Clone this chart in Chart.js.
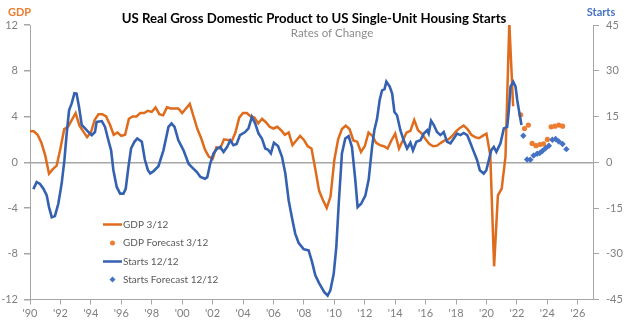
<!DOCTYPE html>
<html>
<head>
<meta charset="utf-8">
<script src="https://cdn.jsdelivr.net/npm/chart.js@4.4.0/dist/chart.umd.min.js"></script>
<style>
  html, body { margin: 0; padding: 0; background: #fff; }
  #wrap { width: 624px; height: 327px; }
</style>
</head>
<body>
<div id="wrap"><canvas id="chart"></canvas></div>
<script>
// GDP 3/12 % change, quarterly, first point at 1990.0
var gdpStartYear = 1990;
var gdpValues = [
  2.7, 2.7, 2.4, 1.7,   0.6, -1.0, -0.6, -0.3,   1.2, 2.9, 3.1, 3.7,   4.3, 3.2, 2.7, 2.2,
  2.6, 3.7, 4.2, 4.2,   4.0, 3.3, 2.4, 2.6,      2.3, 2.4, 3.8, 4.0,   4.0, 4.3, 4.3, 4.5,
  4.4, 4.8, 4.2, 4.1,   4.8, 4.7, 4.7, 4.7,      4.3, 4.7, 5.1, 4.0,   2.9, 2.1, 1.1, 0.5,
  0.3, 1.3, 1.2, 2.0,   1.95, 1.8, 2.6, 3.9,     4.3, 4.3, 4.0, 3.9,   3.4, 3.8, 3.5, 3.1,
  2.95, 3.1, 2.8, 2.4,  2.6, 1.5, 1.9, 2.3,      1.95, 1.4, 1.2, -0.6, -2.5, -3.3, -4.0, -3.0,
  0.2, 2.0, 2.9, 3.2,   2.9, 1.9, 1.8, 0.9,      1.4, 2.6, 2.3, 1.7,   1.5, 1.4, 1.2, 1.9,
  2.5, 1.2, 1.9, 2.6,   2.75, 3.7, 2.8, 2.5,     2.0, 1.6, 1.4, 1.45,  1.7, 1.9, 2.0, 2.3,
  2.7, 3.0, 3.2, 2.9,   2.4, 2.2, 2.1, 2.3,      2.5, 0.6, -9.1, -2.9, -2.3, 0.5, 12.2, 4.9
];

// GDP forecast, quarterly
var gdpForecastDates = [2022.25, 2022.5, 2022.75, 2023.0, 2023.25, 2023.5, 2023.75, 2024.0, 2024.25, 2024.5, 2024.75, 2025.0];
var gdpForecastValues = [4.15, 2.95, 3.25, 1.65, 1.45, 1.55, 1.6, 2.0, 3.1, 3.15, 3.25, 3.15];

// Single-unit housing starts 12/12 % change
var startsDates = [
  1990.22, 1990.44, 1990.66, 1990.88, 1991.10, 1991.25, 1991.43, 1991.64, 1991.86, 1992.08,
  1992.26, 1992.41, 1992.57, 1992.74, 1992.92, 1993.06, 1993.22, 1993.40, 1993.62, 1993.84,
  1994.06, 1994.27, 1994.38, 1994.72, 1994.93, 1995.15, 1995.33, 1995.48, 1995.70, 1995.92,
  1996.14, 1996.29, 1996.47, 1996.64, 1996.86, 1997.05, 1997.35, 1997.55, 1997.75, 1997.90,
  1998.10, 1998.44, 1998.77, 1999.10, 1999.30, 1999.50, 1999.75, 2000.09, 2000.42, 2000.70,
  2000.97, 2001.20, 2001.50, 2001.65, 2001.84, 2002.06, 2002.30, 2002.50, 2002.72, 2002.95,
  2003.16, 2003.37, 2003.58, 2003.80, 2004.14, 2004.36, 2004.58, 2004.80, 2005.02, 2005.24,
  2005.46, 2005.65, 2005.83, 2006.03, 2006.30, 2006.56, 2006.78, 2007.00, 2007.21, 2007.43,
  2007.65, 2007.98, 2008.31, 2008.53, 2008.75, 2009.00, 2009.34, 2009.56, 2009.74, 2009.96,
  2010.13, 2010.29, 2010.50, 2010.72, 2010.94, 2011.16, 2011.38, 2011.53, 2011.76, 2012.04,
  2012.26, 2012.48, 2012.63, 2012.81, 2012.98, 2013.14, 2013.30, 2013.42, 2013.64, 2013.80,
  2013.95, 2014.12, 2014.34, 2014.56, 2014.78, 2015.00, 2015.17, 2015.39, 2015.66, 2015.88,
  2016.10, 2016.20, 2016.36, 2016.54, 2016.75, 2016.97, 2017.19, 2017.41, 2017.63, 2017.85,
  2018.07, 2018.29, 2018.50, 2018.73, 2018.95, 2019.17, 2019.39, 2019.56, 2019.82, 2019.99,
  2020.15, 2020.31, 2020.48, 2020.65, 2020.92, 2021.14, 2021.36, 2021.47, 2021.58, 2021.76,
  2021.91, 2022.02, 2022.13, 2022.30
];
var startsValues = [
  -8.8, -6.5, -7.1, -8.7, -10.9, -14.7, -18.0, -17.6, -13.6, -7.0,
  0.6, 9.4, 17.1, 19.3, 22.6, 22.5, 18.2, 12.2, 11.1, 9.9,
  8.9, 9.9, 13.2, 13.5, 11.6, 7.2, 3.9, -2.6, -8.1, -10.3,
  -10.3, -8.7, -1.5, 4.5, 6.7, 7.8, 6.7, 0.8, -2.6, -3.7,
  -3.0, -1.3, 3.9, 11.6, 12.7, 11.6, 7.2, 3.9, -0.5, -1.9,
  -3.2, -4.8, -5.4, -4.9, -0.5, 2.9, 4.5, 5.0, 3.4, 5.0,
  7.2, 5.6, 6.0, 8.9, 9.9, 11.1, 14.9, 12.7, 9.4, 7.8,
  4.5, 4.1, 2.9, 6.4, 5.3, 1.8, -3.7, -12.5, -18.0, -23.4,
  -26.4, -28.5, -28.9, -32.6, -37.1, -39.6, -42.6, -43.7, -42.0, -36.6,
  -27.8, -13.6, 2.9, 7.8, 8.6, 5.0, -5.9, -14.7, -13.6, -10.9,
  -5.6, 5.0, 10.5, 14.3, 20.4, 23.6, 24.0, 26.4, 24.8, 22.5,
  16.5, 15.4, 10.5, 7.2, 4.5, 6.4, 3.9, 6.7, 7.2, 9.4,
  10.5, 9.4, 13.6, 12.2, 9.9, 8.9, 9.9, 6.7, 6.2, 7.8,
  9.4, 8.9, 9.6, 8.9, 6.2, 3.4, 0.6, -2.6, -3.7, -2.6,
  0.6, 3.9, 5.0, 3.4, 6.2, 11.1, 11.6, 17.1, 24.8, 26.4,
  24.8, 20.4, 17.1, 12.2
];

// Starts forecast
var startsForecastDates = [2022.42, 2022.67, 2022.88, 2023.10, 2023.33, 2023.50, 2023.67, 2023.88, 2024.10, 2024.33, 2024.54, 2024.75, 2025.00, 2025.25];
var startsForecastValues = [8.7, 0.9, 0.8, 2.2, 2.8, 3.0, 3.7, 4.6, 5.4, 7.4, 7.6, 6.8, 6.0, 4.3];

var xTickYears = [1990, 1992, 1994, 1996, 1998, 2000, 2002, 2004, 2006, 2008, 2010, 2012, 2014, 2016, 2018, 2020, 2022, 2024, 2026];

var legendLabels = ['GDP 3/12', 'GDP Forecast 3/12', 'Starts 12/12', 'Starts Forecast 12/12'];

var ORANGE = '#df6b1c';
var ORANGE_DOT = '#ed7d31';
var BLUE = '#3561b1';
var BLUE_DOT = '#4472c4';
var AXIS = '#a6a6a6';
var TICK_TEXT = '#7f7f7f';
var FONT = 'Lato, "Open Sans", sans-serif';

function toPoints(xs, ys) {
  return ys.map(function(v, i) { return { x: xs[i], y: v }; });
}

var gdpPoints = gdpValues.map(function(v, i) { return { x: gdpStartYear + i * 0.25, y: v }; });

// titles, axis captions and the legend box
var decorations = {
  id: 'decorations',
  afterDraw: function(chart) {
    var ctx = chart.ctx;
    ctx.save();
    ctx.textBaseline = 'middle';

    ctx.fillStyle = '#000';
    ctx.textAlign = 'center';
    ctx.font = 'bold 13.2px ' + FONT;
    ctx.fillText('US Real Gross Domestic Product to US Single-Unit Housing Starts', 314, 19);

    ctx.fillStyle = '#8c8c8c';
    ctx.font = '11.5px ' + FONT;
    ctx.fillText('Rates of Change', 332, 33);

    ctx.font = 'bold 11px ' + FONT;
    ctx.textAlign = 'left';
    ctx.fillStyle = ORANGE_DOT;
    ctx.fillText('GDP', 8, 12);
    ctx.textAlign = 'center';
    ctx.fillStyle = BLUE_DOT;
    ctx.fillText('Starts', 601, 12);

    // legend
    var rows = [224.5, 243, 261.5, 279.5];
    ctx.font = '10px ' + FONT;
    ctx.textAlign = 'left';
    rows.forEach(function(y, i) {
      if (i === 0 || i === 2) {
        ctx.strokeStyle = i === 0 ? ORANGE : BLUE;
        ctx.lineWidth = 2.5;
        ctx.beginPath();
        ctx.moveTo(103, y);
        ctx.lineTo(122, y);
        ctx.stroke();
      } else if (i === 1) {
        ctx.fillStyle = ORANGE_DOT;
        ctx.beginPath();
        ctx.arc(112.5, y, 2.5, 0, Math.PI * 2);
        ctx.fill();
      } else {
        ctx.fillStyle = BLUE_DOT;
        ctx.beginPath();
        ctx.moveTo(112.5, y - 3);
        ctx.lineTo(115.5, y);
        ctx.lineTo(112.5, y + 3);
        ctx.lineTo(109.5, y);
        ctx.closePath();
        ctx.fill();
      }
      ctx.fillStyle = '#595959';
      ctx.fillText(legendLabels[i], 123, y);
    });
    ctx.restore();
  }
};

var tickFont = { family: FONT, size: 11 };

new Chart(document.getElementById('chart'), {
  type: 'line',
  data: {
    datasets: [{
      label: legendLabels[2],
      data: toPoints(startsDates, startsValues),
      yAxisID: 'y2',
      borderColor: BLUE,
      borderWidth: 2.6,
      pointRadius: 0,
      tension: 0
    }, {
      label: legendLabels[3],
      data: toPoints(startsForecastDates, startsForecastValues),
      yAxisID: 'y2',
      showLine: false,
      pointStyle: 'rectRot',
      pointRadius: 3.2,
      pointBackgroundColor: BLUE_DOT,
      pointBorderWidth: 0
    }, {
      label: legendLabels[0],
      data: gdpPoints,
      yAxisID: 'y',
      borderColor: ORANGE,
      borderWidth: 2.5,
      pointRadius: 0,
      tension: 0
    }, {
      label: legendLabels[1],
      data: toPoints(gdpForecastDates, gdpForecastValues),
      yAxisID: 'y',
      showLine: false,
      pointStyle: 'circle',
      pointRadius: 2.6,
      pointBackgroundColor: ORANGE_DOT,
      pointBorderWidth: 0
    }]
  },
  options: {
    responsive: true,
    maintainAspectRatio: false,
    animation: false,
    devicePixelRatio: 1,
    layout: { padding: { top: 25, left: 0, right: 0, bottom: 0 } },
    plugins: {
      legend: { display: false },
      tooltip: { enabled: false }
    },
    scales: {
      x: {
        type: 'linear',
        min: 1990,
        max: 2027,
        afterBuildTicks: function(scale) {
          scale.ticks = xTickYears.map(function(v) { return { value: v }; });
        },
        afterFit: function(scale) { scale.height = 27.5; },
        ticks: {
          autoSkip: false,
          maxRotation: 0,
          padding: 2,
          color: TICK_TEXT,
          font: tickFont,
          callback: function(v) { return "'" + String(v).slice(2); }
        },
        grid: { drawOnChartArea: false, tickLength: 5, tickColor: AXIS },
        border: { color: AXIS, width: 1 }
      },
      y: {
        position: 'left',
        min: -12,
        max: 12,
        afterFit: function(scale) { scale.width = 30; },
        ticks: { stepSize: 4, padding: 6, color: TICK_TEXT, font: tickFont },
        grid: {
          color: function(c) { return c.tick && c.tick.value === 0 ? AXIS : 'rgba(0,0,0,0)'; },
          lineWidth: 1.5,
          tickColor: AXIS,
          tickLength: 6
        },
        border: { color: AXIS, width: 1 }
      },
      y2: {
        position: 'right',
        min: -45,
        max: 45,
        afterFit: function(scale) { scale.width = 31; },
        ticks: { stepSize: 15, padding: 7, color: TICK_TEXT, font: tickFont },
        grid: { drawOnChartArea: false, tickColor: AXIS, tickLength: 6 },
        border: { color: AXIS, width: 1 }
      }
    }
  },
  plugins: [decorations]
});
</script>
</body>
</html>
